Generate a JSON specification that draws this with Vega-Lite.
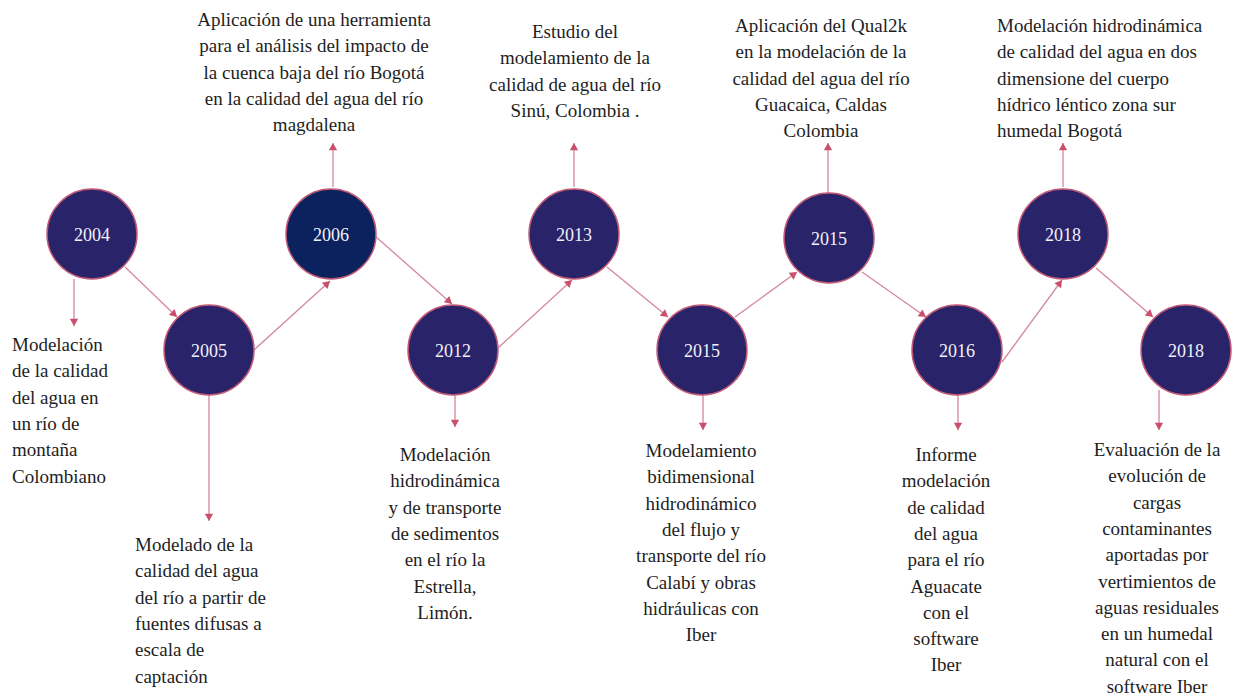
{
  "$schema": "https://vega.github.io/schema/vega-lite/v6.json",
  "width": 1237,
  "height": 698,
  "autosize": {"type": "fit", "contains": "padding"},
  "padding": 0,
  "background": "white",
  "config": {"view": {"stroke": null}, "font": "'Liberation Serif', 'Times New Roman', serif"},
  "datasets": {
    "events": [
      {"year": "2004", "cx": 92, "cy": 234, "kind": "normal"},
      {"year": "2005", "cx": 209, "cy": 350, "kind": "normal"},
      {"year": "2006", "cx": 331, "cy": 234, "kind": "highlight"},
      {"year": "2012", "cx": 453, "cy": 350, "kind": "normal"},
      {"year": "2013", "cx": 574, "cy": 234, "kind": "normal"},
      {"year": "2015", "cx": 702, "cy": 350, "kind": "normal"},
      {"year": "2015", "cx": 829, "cy": 238, "kind": "normal"},
      {"year": "2016", "cx": 957, "cy": 350, "kind": "normal"},
      {"year": "2018", "cx": 1063, "cy": 234, "kind": "normal"},
      {"year": "2018", "cx": 1186, "cy": 350, "kind": "normal"}
    ],
    "arrows": [
      {"x": 125, "y": 267, "x2": 177, "y2": 317},
      {"x": 254, "y": 350, "x2": 330, "y2": 281},
      {"x": 375, "y": 236, "x2": 452, "y2": 304},
      {"x": 498, "y": 348, "x2": 572, "y2": 280},
      {"x": 607, "y": 267, "x2": 668, "y2": 317},
      {"x": 735, "y": 317, "x2": 797, "y2": 272},
      {"x": 862, "y": 272, "x2": 926, "y2": 317},
      {"x": 1002, "y": 362, "x2": 1062, "y2": 280},
      {"x": 1096, "y": 268, "x2": 1153, "y2": 317},
      {"x": 74, "y": 279, "x2": 74, "y2": 326},
      {"x": 209, "y": 395, "x2": 209, "y2": 521},
      {"x": 333, "y": 187, "x2": 333, "y2": 143},
      {"x": 455, "y": 395, "x2": 455, "y2": 427},
      {"x": 574, "y": 187, "x2": 574, "y2": 143},
      {"x": 703, "y": 395, "x2": 703, "y2": 430},
      {"x": 828, "y": 193, "x2": 828, "y2": 143},
      {"x": 958, "y": 395, "x2": 958, "y2": 430},
      {"x": 1063, "y": 187, "x2": 1063, "y2": 143},
      {"x": 1159, "y": 390, "x2": 1159, "y2": 430}
    ],
    "notes": [
      {"x": 12, "y": 351, "align": "left", "text": "Modelación\nde la calidad\ndel agua en\nun río de\nmontaña\nColombiano"},
      {"x": 135, "y": 551, "align": "left", "text": "Modelado de la\ncalidad del agua\ndel río a partir de\nfuentes difusas a\nescala de\ncaptación"},
      {"x": 314, "y": 26, "align": "center", "text": "Aplicación de una herramienta\npara el análisis del impacto de\nla cuenca baja del río Bogotá\nen la calidad del agua del río\nmagdalena"},
      {"x": 445, "y": 461, "align": "center", "text": "Modelación\nhidrodinámica\ny de transporte\nde sedimentos\nen el río la\nEstrella,\nLimón."},
      {"x": 575, "y": 38, "align": "center", "text": "Estudio del\nmodelamiento de la\ncalidad de agua del río\nSinú, Colombia ."},
      {"x": 701, "y": 457, "align": "center", "text": "Modelamiento\nbidimensional\nhidrodinámico\ndel flujo y\ntransporte del río\nCalabí y obras\nhidráulicas con\nIber"},
      {"x": 821, "y": 32, "align": "center", "text": "Aplicación del Qual2k\nen la modelación de la\ncalidad del agua del río\nGuacaica, Caldas\nColombia"},
      {"x": 946, "y": 461, "align": "center", "text": "Informe\nmodelación\nde calidad\ndel agua\npara el río\nAguacate\ncon el\nsoftware\nIber"},
      {"x": 997, "y": 32, "align": "left", "text": "Modelación hidrodinámica\nde calidad del agua en dos\ndimensione del cuerpo\nhídrico léntico zona sur\nhumedal Bogotá"},
      {"x": 1157, "y": 456, "align": "center", "text": "Evaluación de la\nevolución de\ncargas\ncontaminantes\naportadas por\nvertimientos de\naguas residuales\nen un humedal\nnatural con el\nsoftware Iber"}
    ]
  },
  "layer": [
    {
      "data": {"name": "arrows"},
      "mark": {"type": "rule", "stroke": "#d4889c", "strokeWidth": 1.3},
      "encoding": {
        "x": {"field": "x", "type": "quantitative", "scale": {"domain": [0, 1237], "nice": false, "zero": false}, "axis": null},
        "y": {"field": "y", "type": "quantitative", "scale": {"domain": [0, 698], "reverse": true, "nice": false, "zero": false}, "axis": null},
        "x2": {"field": "x2"},
        "y2": {"field": "y2"}
      }
    },
    {
      "data": {"name": "arrows"},
      "transform": [
        {"calculate": "sqrt(pow(datum.x2 - datum.x, 2) + pow(datum.y2 - datum.y, 2))", "as": "len"},
        {"calculate": "datum.x2 - 3.6 * (datum.x2 - datum.x) / datum.len", "as": "hx"},
        {"calculate": "datum.y2 - 3.6 * (datum.y2 - datum.y) / datum.len", "as": "hy"},
        {"calculate": "atan2(datum.x2 - datum.x, datum.y - datum.y2) * 180 / PI", "as": "ang"}
      ],
      "mark": {"type": "point", "shape": "triangle-up", "filled": true, "size": 70, "color": "#c94f6d", "opacity": 1},
      "encoding": {
        "x": {"field": "hx", "type": "quantitative", "scale": {"domain": [0, 1237], "nice": false, "zero": false}, "axis": null},
        "y": {"field": "hy", "type": "quantitative", "scale": {"domain": [0, 698], "reverse": true, "nice": false, "zero": false}, "axis": null},
        "angle": {"field": "ang", "type": "quantitative", "scale": null}
      }
    },
    {
      "data": {"name": "events"},
      "mark": {"type": "point", "shape": "circle", "filled": true, "size": 8100, "stroke": "#c25a76", "strokeWidth": 1.5, "opacity": 1},
      "encoding": {
        "x": {"field": "cx", "type": "quantitative", "scale": {"domain": [0, 1237], "nice": false, "zero": false}, "axis": null},
        "y": {"field": "cy", "type": "quantitative", "scale": {"domain": [0, 698], "reverse": true, "nice": false, "zero": false}, "axis": null},
        "fill": {"field": "kind", "type": "nominal", "scale": {"domain": ["normal", "highlight"], "range": ["#29236a", "#0c225f"]}, "legend": null}
      }
    },
    {
      "data": {"name": "events"},
      "mark": {"type": "text", "font": "'Liberation Serif', 'Times New Roman', serif", "fontSize": 18, "fill": "#f2f1f8", "align": "center", "baseline": "middle", "dy": 2},
      "encoding": {
        "x": {"field": "cx", "type": "quantitative", "scale": {"domain": [0, 1237], "nice": false, "zero": false}, "axis": null},
        "y": {"field": "cy", "type": "quantitative", "scale": {"domain": [0, 698], "reverse": true, "nice": false, "zero": false}, "axis": null},
        "text": {"field": "year", "type": "nominal"}
      }
    },
    {
      "data": {"name": "notes"},
      "transform": [{"filter": "datum.align === 'center'"}],
      "mark": {"type": "text", "font": "'Liberation Serif', 'Times New Roman', serif", "fontSize": 19, "fill": "#1e1e1e", "align": "center", "baseline": "alphabetic", "lineBreak": "\n", "lineHeight": 26.3},
      "encoding": {
        "x": {"field": "x", "type": "quantitative", "scale": {"domain": [0, 1237], "nice": false, "zero": false}, "axis": null},
        "y": {"field": "y", "type": "quantitative", "scale": {"domain": [0, 698], "reverse": true, "nice": false, "zero": false}, "axis": null},
        "text": {"field": "text", "type": "nominal"}
      }
    },
    {
      "data": {"name": "notes"},
      "transform": [{"filter": "datum.align === 'left'"}],
      "mark": {"type": "text", "font": "'Liberation Serif', 'Times New Roman', serif", "fontSize": 19, "fill": "#1e1e1e", "align": "left", "baseline": "alphabetic", "lineBreak": "\n", "lineHeight": 26.3},
      "encoding": {
        "x": {"field": "x", "type": "quantitative", "scale": {"domain": [0, 1237], "nice": false, "zero": false}, "axis": null},
        "y": {"field": "y", "type": "quantitative", "scale": {"domain": [0, 698], "reverse": true, "nice": false, "zero": false}, "axis": null},
        "text": {"field": "text", "type": "nominal"}
      }
    }
  ]
}
